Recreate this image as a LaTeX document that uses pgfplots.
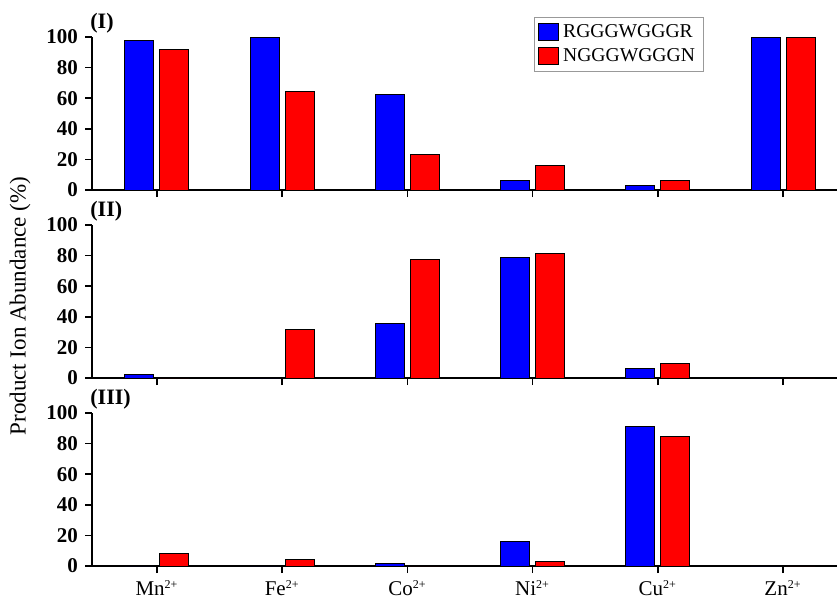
\documentclass[border=0pt]{standalone}
\usepackage{pgfplots}
\pgfplotsset{compat=1.18}
\usepackage{fontspec}
\setmainfont{Liberation Serif}

\newcommand{\sq}[1]{#1\textsuperscript{\fontsize{6}{7}\selectfont 2+}}

\pgfplotsset{
 panel/.style={
   scale only axis, width=372.5pt, height=76.5pt,
   xmin=-0.519, xmax=5.431, ymin=0, ymax=100,
   axis lines=left, axis line style={-, line width=0.8pt},
   xtick={0,...,5}, ytick={0,20,...,100},
   tick align=outside, major tick length=3.5pt,
   tick style={line width=0.8pt, black},
   xticklabels={},
   yticklabel style={font=\fontsize{10.5}{12}\selectfont\bfseries},
   xticklabel style={font=\fontsize{10.5}{12}\selectfont},
   /pgf/number format/assume math mode=true,
   clip=false, anchor=north west,
 },
 bl/.style={ybar, bar width=14.5pt, bar shift=-8.75pt, fill=blue, draw=black, line width=0.5pt,
   legend image code/.code={\draw[##1] (0pt,-4.25pt) rectangle (10pt,4.25pt);}},
 rd/.style={ybar, bar width=14.5pt, bar shift=8.75pt, fill=red, draw=black, line width=0.5pt,
   legend image code/.code={\draw[##1] (0pt,-4.25pt) rectangle (10pt,4.25pt);}},
}
\tikzset{plabel/.style={anchor=south west, inner sep=0pt, font=\fontsize{11}{12}\selectfont\bfseries}}

\begin{document}
\begin{tikzpicture}
\useasboundingbox (0,0) rectangle (418.5pt,-302.5pt);

% Panel I
\begin{axis}[panel, at={(46pt,-18.5pt)},
  legend style={at={(rel axis cs:0.593,1.131)}, anchor=north west, draw=black!40,
    font=\fontsize{9.8}{12}\selectfont, inner xsep=2pt, inner ysep=1.5pt, row sep=0pt},
  legend cell align=left]
 \addplot[bl] coordinates {(0,97.6) (1,99.8) (2,62.5) (3,5.9) (4,3.0) (5,99.8)};
 \addplot[rd] coordinates {(0,92.0) (1,64.3) (2,22.9) (3,15.9) (4,6.5) (5,99.8)};
 \legend{RGGGWGGGR,NGGGWGGGN}
 \node[plabel] at (rel axis cs:0,1) [xshift=-1pt,yshift=1.5pt] {(I)};
\end{axis}

% Panel II
\begin{axis}[panel, at={(46pt,-112.5pt)}]
 \addplot[bl] coordinates {(0,2.6) (1,0) (2,35.9) (3,78.6) (4,6.1) (5,0)};
 \addplot[rd] coordinates {(0,0) (1,31.6) (2,77.3) (3,81.7) (4,9.8) (5,0)};
 \node[plabel] at (rel axis cs:0,1) [xshift=-1pt,yshift=1.5pt] {(II)};
\end{axis}

% Panel III
\begin{axis}[panel, at={(46pt,-206.5pt)},
  xticklabels={\sq{Mn},\sq{Fe},\sq{Co},\sq{Ni},\sq{Cu},\sq{Zn}}]
 \addplot[bl] coordinates {(0,0) (1,0) (2,1.8) (3,15.8) (4,91.4) (5,0)};
 \addplot[rd] coordinates {(0,7.9) (1,4.4) (2,0) (3,2.9) (4,84.8) (5,0)};
 \node[plabel] at (rel axis cs:0,1) [xshift=-1pt,yshift=1.5pt] {(III)};
\end{axis}

\node[rotate=90, font=\fontsize{11.5}{13}\selectfont] at (10pt,-153pt) {Product Ion Abundance (\%)};
\end{tikzpicture}
\end{document}
